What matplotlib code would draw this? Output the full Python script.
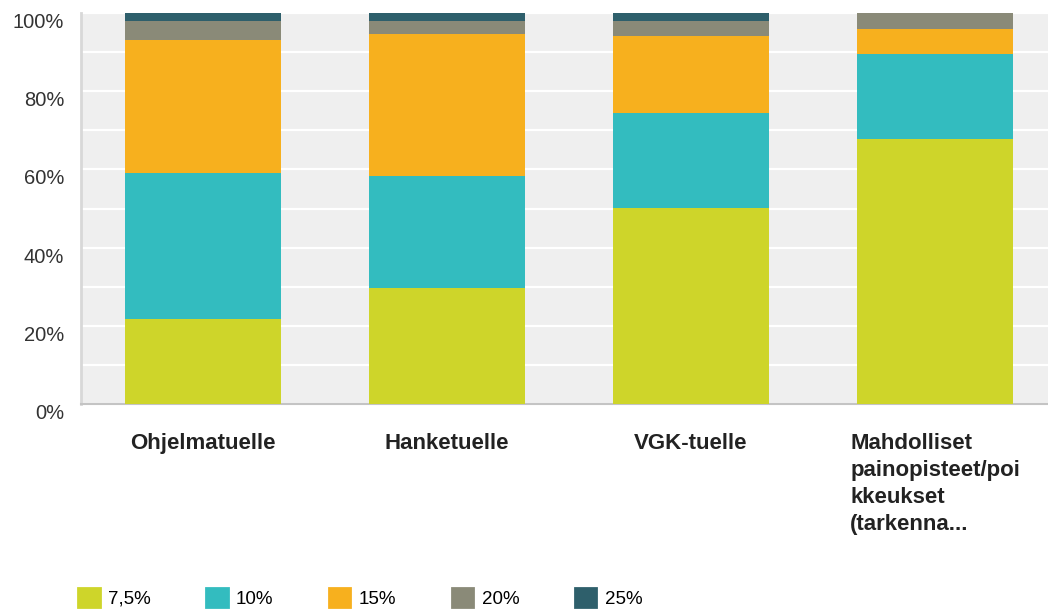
import numpy as np
import matplotlib
matplotlib.use("Agg")
import matplotlib.pyplot as plt
from matplotlib.patches import Patch

categories = ["Ohjelmatuelle", "Hanketuelle", "VGK-tuelle",
              "Mahdolliset\npainopisteet/poi\nkkeukset\n(tarkenna..."]
series_names = ["7,5%", "10%", "15%", "20%", "25%"]
v_75 = [21.7, 29.7, 50.2, 67.7]
v_10 = [37.5, 28.5, 24.1, 21.8]
v_15 = [34.0, 36.4, 19.8, 6.5]
v_20 = [4.8, 3.4, 3.9, 4.0]
v_25 = [2.0, 2.0, 2.0, 0.0]
colors = ["#ced52a", "#33bcbf", "#f7b01e", "#8a8a78", "#2e5f6b"]

plt.rcParams['font.family'] = ['Liberation Sans', 'DejaVu Sans']

fig = plt.figure(figsize=(10.48, 6.10), dpi=100)
ax = fig.add_axes([81/1048, 1 - 404/610, 1 - 81/1048, (404 - 13)/610])
ax.set_facecolor("#efefef")

x = np.arange(len(categories))
bottom = np.zeros(len(categories))
for vals, name, c in zip([v_75, v_10, v_15, v_20, v_25], series_names, colors):
    ax.bar(x, vals, width=0.64, bottom=bottom, color=c, label=name, zorder=3)
    bottom += np.array(vals)

ax.set_xlim(-0.5, 3.463)
ax.set_ylim(0, 100)
ax.set_yticks(np.arange(0, 101, 20))
ax.set_yticks(np.arange(0, 101, 10), minor=True)
ax.set_yticklabels([f"{v}%" for v in range(0, 101, 20)], fontsize=14.5, color="#333333")
for t in ax.get_yticklabels():
    t.set_verticalalignment("top")
ax.grid(True, which="both", axis="y", color="white", lw=1.6, zorder=1)
ax.tick_params(axis="y", which="both", length=0, pad=12)

ax.set_xticks(x)
ax.set_xticklabels(categories, fontsize=16, fontweight="bold", color="#222222",
                   linespacing=1.38)
for t in ax.get_xticklabels():
    t.set_multialignment("left")
ax.tick_params(axis="x", length=0, pad=21)

for s in ["top", "right"]:
    ax.spines[s].set_visible(False)
ax.spines["left"].set_color("#d8d8d8")
ax.spines["left"].set_linewidth(2)
ax.spines["bottom"].set_color("#c4c4c4")
ax.spines["bottom"].set_linewidth(1.5)

handles = [Patch(facecolor=c, edgecolor=c, linewidth=2, joinstyle="round")
           for c in colors]
fig.legend(handles, series_names, loc="lower left", ncol=5, frameon=False,
           bbox_to_anchor=(78/1048, 2/610), borderaxespad=0, borderpad=0,
           handlelength=1.15, handleheight=1.15, handletextpad=0.45,
           columnspacing=2.95, prop={'size': 13.5})

fig.savefig("out.png", dpi=100)
